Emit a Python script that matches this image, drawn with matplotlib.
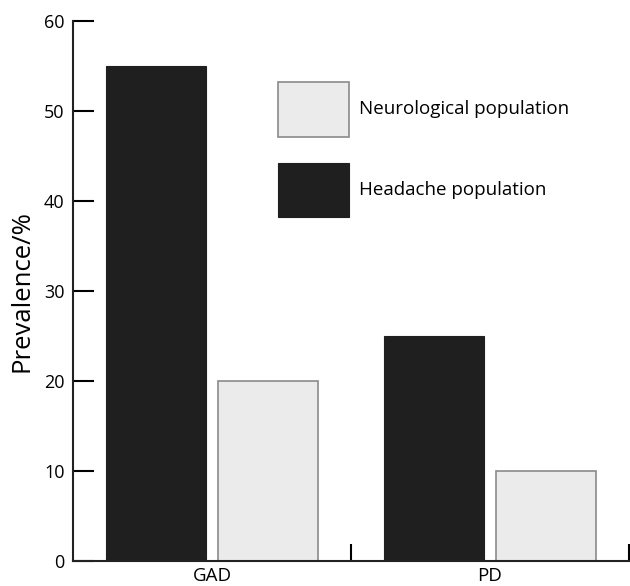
import matplotlib
matplotlib.use('Agg')
import matplotlib.pyplot as plt
import numpy as np


width = 630
height = 586
dpi = 100
figsize = (width/dpi, height/dpi)

categories = ['GAD', 'PD']
headache = [55, 25]
neurological = [20, 10]
yticks = [0, 10, 20, 30, 40, 50, 60]

dark = '#1f1f1f'
light = '#ebebeb'

plt.rcParams['font.family'] = ['Open Sans', 'DejaVu Sans']

fig = plt.figure(figsize=figsize, dpi=dpi)
ax = fig.add_axes([73/width, 25/height, (629-73)/width, (561-21)/height])

x = np.arange(len(categories))
bw = 0.36
ax.bar(x - 0.2, headache, bw, color=dark, edgecolor=dark, linewidth=0.8,
       label='Headache population')
ax.bar(x + 0.2, neurological, bw, color=light, edgecolor='#8a8a8a', linewidth=1.2,
       label='Neurological population')

ax.set_xlim(-0.5, 1.5)
ax.set_ylim(0, 60)
ax.set_yticks(yticks)
ax.set_xticks(x)
ax.set_xticklabels(categories)
ax.set_xticks([0.5, 1.5], minor=True)
ax.tick_params(axis='x', which='major', length=0, labelsize=13.5, pad=4)
ax.tick_params(axis='x', which='minor', direction='in', length=12, width=1.5)
ax.tick_params(axis='y', direction='in', length=15, width=1.5, labelsize=13, pad=6)
ax.set_ylabel('Prevalence/%', fontsize=18.5, labelpad=7)

for s in ['top', 'right']:
    ax.spines[s].set_visible(False)
for s in ['left', 'bottom']:
    ax.spines[s].set_linewidth(1.5)
    ax.spines[s].set_color('#222222')

handles, labels = ax.get_legend_handles_labels()
fs = 13.5
px = fs * dpi / 72
ax.legend(handles[::-1], labels[::-1], loc='upper left',
          bbox_to_anchor=(278/width, 1 - 82/height), bbox_transform=fig.transFigure,
          frameon=False, fontsize=fs, borderpad=0, borderaxespad=0,
          handlelength=71/px, handleheight=54/(px*0.7), labelspacing=26/px,
          handletextpad=10/px)

fig.savefig('out.png', dpi=dpi)
